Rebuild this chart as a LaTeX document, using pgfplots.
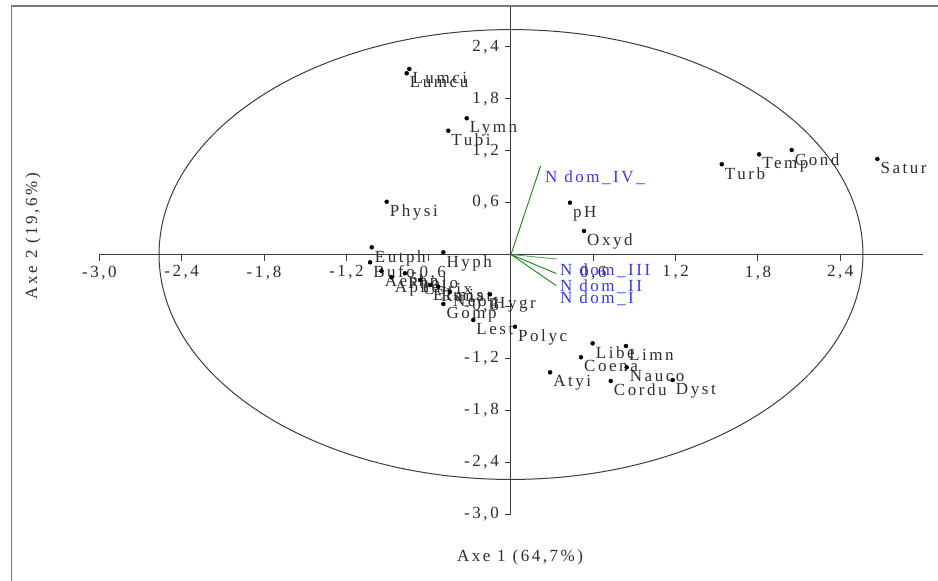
\documentclass[border=0pt]{standalone}
\usepackage{fontspec}
\setmainfont{Liberation Serif}[LetterSpace=15]
\usepackage{pgfplots}
\usepackage{pgfplotstable}
\pgfplotsset{compat=1.18}
\definecolor{txt}{RGB}{45,45,45}
\definecolor{axc}{RGB}{60,60,60}
\definecolor{vblue}{RGB}{55,55,245}
\definecolor{vgreen}{RGB}{20,135,20}
\definecolor{lgreen}{RGB}{90,175,90}
\definecolor{frm}{RGB}{120,120,120}
\newcommand\ff{\fontsize{17}{19}\selectfont}

\pgfplotstableread{
x y lab
-0.741 2.145 Lumci
-0.760 2.095 Lumcu
-0.323 1.575 Lymn
-0.457 1.431 Tubi
-0.906 0.610 Physi
1.536 1.043 Turb
1.808 1.158 Temp
2.046 1.208 Cond
2.670 1.104 Satur
0.430 0.599 pH
0.532 0.272 Oxyd
-0.493 0.025 Hyph
-1.015 0.083 Eutph
-1.027 -0.090 Bufo
-0.943 -0.191 Aeshn
-0.870 -0.264 Aphel
-0.773 -0.217 Pholo
-0.663 -0.295 Corix
-0.590 -0.353 Elmis
-0.530 -0.372 Ranat
-0.445 -0.430 Neop
-0.153 -0.460 Hygr
-0.493 -0.572 Gomp
-0.275 -0.757 Lest
0.029 -0.835 Polyc
0.595 -1.027 Libe
0.838 -1.058 Limn
0.510 -1.188 Coena
0.843 -1.304 Nauco
0.285 -1.362 Atyi
0.727 -1.462 Cordu
1.179 -1.451 Dyst
}\pts

\begin{document}
\begin{tikzpicture}
\begin{axis}[
  x=137.2pt, y=86.5pt,
  xmin=-3, xmax=3, ymin=-3, ymax=2.87,
  axis lines=middle,
  axis line style={-, axc, line width=1pt},
  clip=false,
  major tick length=0pt,
  xtick={-3,-2.4,-1.8,-1.2,-0.6,0.6,1.2,1.8,2.4},
  xticklabels={{-3,0},{-2,4},{-1,8},{-1,2},{-0,6},{0,6},{1,2},{1,8},{2,4}},
  ytick={-3,-2.4,-1.8,-1.2,-0.6,0.6,1.2,1.8,2.4},
  yticklabels={{-3,0},{-2,4},{-1,8},{-1,2},{-0,6},{0,6},{1,2},{1,8},{2,4}},
  xticklabel style={font=\ff, text=txt, anchor=north, inner sep=0pt, yshift=-11pt},
  yticklabel style={font=\ff, text=txt, anchor=east, inner sep=0pt, xshift=-12pt},
]
\coordinate (BL) at (axis cs:-3.724,-3.763);
\coordinate (TR) at (axis cs:3.112,2.942);
\draw[frm, line width=1.3pt] (axis cs:-3.641,-3.9) -- (axis cs:-3.641,2.873) -- (axis cs:3.2,2.873);
\pgfplotsinvokeforeach{-3,-2.4,-1.8,-1.2,-0.6,0.6,1.2,1.8,2.4}{
  \draw[axc, line width=1pt] (axis cs:#1,0) -- ++(0pt,-6pt);
  \draw[axc, line width=1pt] (axis cs:0,#1) -- ++(-6pt,0pt);
}
\draw[axc, line width=1pt] (axis cs:0,0) ellipse [x radius=2.565, y radius=2.6];

\addplot[vgreen, line width=0.9pt] coordinates {(0,0) (0.216,1.023)};
\addplot[lgreen, line width=0.9pt] coordinates {(0,0) (0.335,-0.052)};
\addplot[vgreen, line width=0.9pt] coordinates {(0,0) (0.33,-0.22)};
\addplot[vgreen, line width=0.9pt] coordinates {(0,0) (0.33,-0.36)};
\node[anchor=west, inner sep=0pt, font=\ff, text=vblue] at (axis cs:0.248,0.884) {N dom\_IV\_};
\node[anchor=west, inner sep=0pt, font=\ff, text=vblue] at (axis cs:0.357,-0.191) {N dom\_III};
\node[anchor=west, inner sep=0pt, font=\ff, text=vblue] at (axis cs:0.357,-0.376) {N dom\_II};
\node[anchor=west, inner sep=0pt, font=\ff, text=vblue] at (axis cs:0.357,-0.514) {N dom\_I};

\addplot[only marks, mark=*, mark size=2pt, black,
  nodes near coords, point meta=explicit symbolic,
  nodes near coords style={anchor=north west, inner sep=0pt, xshift=3pt, yshift=-3pt, font=\ff, text=txt}]
  table[x=x, y=y, meta=lab]{\pts};

\node[font=\ff, text=txt] at (axis cs:0.066,-3.497) {Axe 1 (64,7\%)};
\node[font=\ff, text=txt, rotate=90] at (axis cs:-3.484,0.214) {Axe 2 (19,6\%)};
\end{axis}
\pgfresetboundingbox
\path[use as bounding box] (BL) rectangle (TR);
\end{tikzpicture}
\end{document}
